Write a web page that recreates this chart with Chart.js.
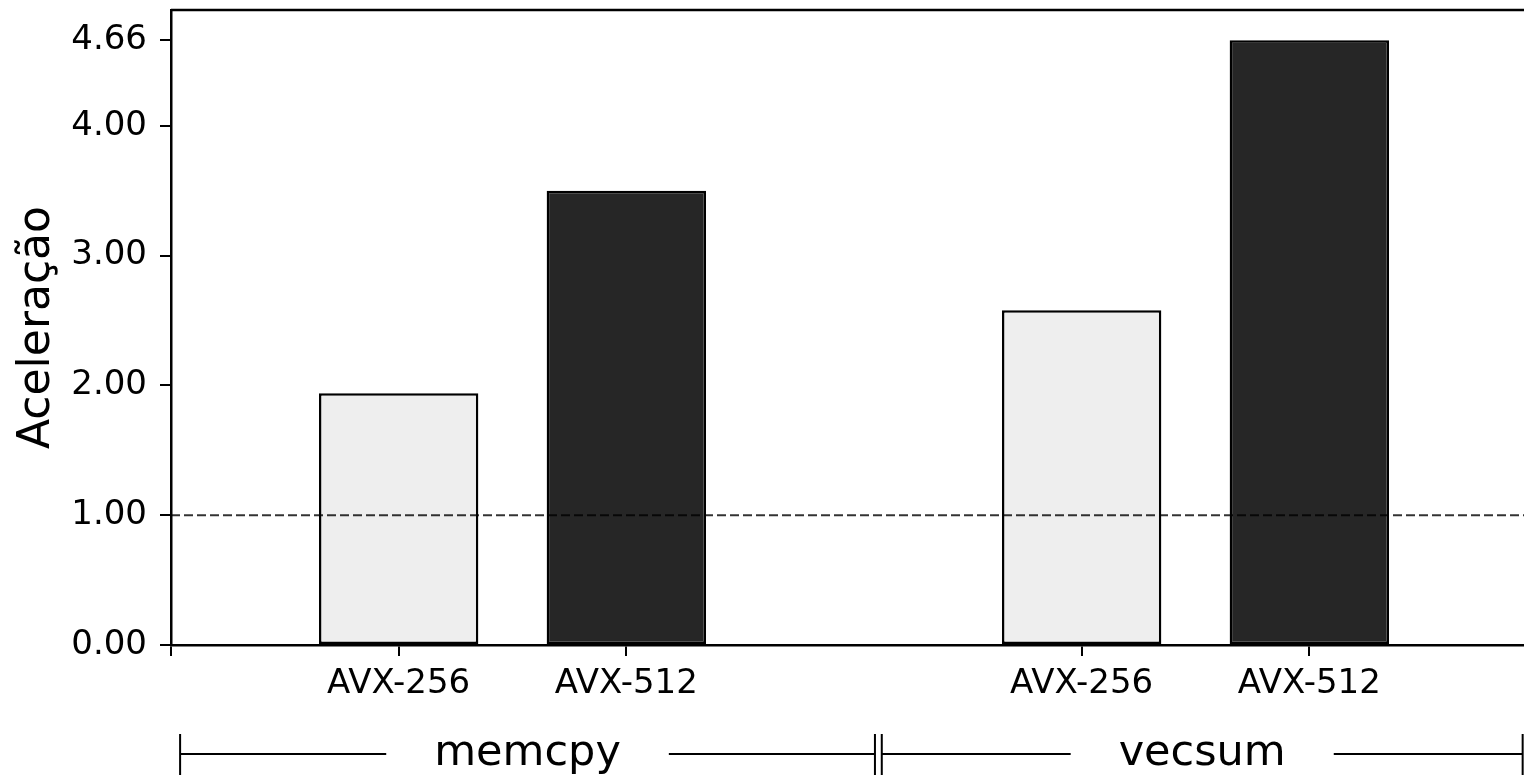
<!DOCTYPE html>
<html>
<head>
<meta charset="utf-8">
<title>Aceleração AVX</title>
<script src="https://cdn.jsdelivr.net/npm/chart.js@4.4.1/dist/chart.umd.min.js"></script>
<style>
  html, body { margin: 0; padding: 0; background: #ffffff; overflow: hidden; }
  /* the plot runs a little past the right edge of the window */
  #wrap { position: relative; width: 1560px; height: 775px; }
</style>
</head>
<body>
<div id="wrap"><canvas id="chart"></canvas></div>
<script>
// Benchmarks and the two vector widths measured for each
const groups = ['memcpy', 'vecsum'];
const variants = ['AVX-256', 'AVX-512'];

// Speed-up over the scalar baseline
const avx256 = [1.94, 2.58];
const avx512 = [3.50, 4.66];

// Y tick values and the reference speed-up line
const yTicks = [0, 1, 2, 3, 4, 4.66];
const baseline = 1.0;
const yTitle = 'Aceleração';

// ---- layout helpers (slot 0 is the left edge, each group takes three slots) ----
const SLOTS_PER_GROUP = 3;
const slotOf = (g, v) => g * SLOTS_PER_GROUP + 1 + v;
const xMax = groups.length * SLOTS_PER_GROUP;
const yMax = Math.max(...avx256, ...avx512) * 1.05;

const tickLabelAt = {};
groups.forEach((g, gi) => variants.forEach((v, vi) => { tickLabelAt[slotOf(gi, vi)] = v; }));
const xTickValues = [0];
groups.forEach((g, gi) => variants.forEach((v, vi) => xTickValues.push(slotOf(gi, vi))));
xTickValues.push(xMax);

const FONT = 'DejaVu Sans';
Chart.defaults.font.family = FONT;
Chart.defaults.color = '#000000';

// Dashed line at the baseline speed-up, drawn above the bars
const baselinePlugin = {
  id: 'baselineLine',
  afterDatasetsDraw(chart) {
    const { ctx, chartArea, scales } = chart;
    const y = scales.y.getPixelForValue(baseline);
    ctx.save();
    ctx.strokeStyle = 'rgba(0,0,0,0.8)';
    ctx.lineWidth = 2;
    ctx.setLineDash([9, 4]);
    ctx.beginPath();
    ctx.moveTo(chartArea.left, y);
    ctx.lineTo(chartArea.right, y);
    ctx.stroke();
    ctx.restore();
  }
};

// Top frame line
const framePlugin = {
  id: 'frame',
  afterDraw(chart) {
    const { ctx, chartArea } = chart;
    ctx.save();
    ctx.strokeStyle = '#000000';
    ctx.lineWidth = 2.5;
    ctx.beginPath();
    ctx.moveTo(chartArea.left, chartArea.top);
    ctx.lineTo(chartArea.right, chartArea.top);
    ctx.stroke();
    ctx.restore();
  }
};

// Group brackets under the x tick labels: |---- name ----||---- name ----|
const BRACKET_SPANS = [[0.04, 3.092], [3.122, 5.937]];
const groupBracketPlugin = {
  id: 'groupBrackets',
  afterDraw(chart) {
    const { ctx, chartArea, scales } = chart;
    const x = scales.x;
    const yLine = chartArea.bottom + 109;
    ctx.save();
    ctx.strokeStyle = '#000000';
    ctx.fillStyle = '#000000';
    ctx.lineWidth = 2;
    ctx.font = '43px "' + FONT + '"';
    ctx.textAlign = 'center';
    ctx.textBaseline = 'alphabetic';
    groups.forEach((name, i) => {
      const x0 = x.getPixelForValue(BRACKET_SPANS[i][0]);
      const x1 = x.getPixelForValue(BRACKET_SPANS[i][1]);
      const mid = (x0 + x1) / 2;
      const half = ctx.measureText(name).width / 2 + 48;
      ctx.beginPath();
      ctx.moveTo(x0, yLine); ctx.lineTo(mid - half, yLine);
      ctx.moveTo(mid + half, yLine); ctx.lineTo(x1, yLine);
      ctx.moveTo(x0, yLine - 20); ctx.lineTo(x0, yLine + 22);
      ctx.moveTo(x1, yLine - 20); ctx.lineTo(x1, yLine + 22);
      ctx.stroke();
      ctx.fillText(name, mid, yLine + 11);
    });
    ctx.restore();
  }
};

const points = (vals, vi) => vals.map((v, gi) => ({ x: slotOf(gi, vi), y: v }));

new Chart(document.getElementById('chart'), {
  type: 'bar',
  data: {
    datasets: [
      {
        label: variants[0],
        data: points(avx256, 0),
        backgroundColor: '#eeeeee',
        borderColor: '#000000',
        borderWidth: 2.5,
        borderSkipped: false,
        grouped: false,
        categoryPercentage: 1,
        barPercentage: 0.7
      },
      {
        label: variants[1],
        data: points(avx512, 1),
        backgroundColor: '#262626',
        borderColor: '#000000',
        borderWidth: 2.5,
        borderSkipped: false,
        grouped: false,
        categoryPercentage: 1,
        barPercentage: 0.7
      }
    ]
  },
  options: {
    responsive: true,
    maintainAspectRatio: false,
    animation: false,
    layout: { padding: { left: 0, top: 10, right: 23, bottom: 0 } },
    plugins: { legend: { display: false }, tooltip: { enabled: false } },
    scales: {
      x: {
        type: 'linear',
        offset: false,
        min: 0,
        max: xMax,
        afterBuildTicks(scale) { scale.ticks = xTickValues.map(v => ({ value: v })); },
        afterFit(scale) {
          scale.height = 130;
          scale.paddingLeft = 0; scale.paddingRight = 0;
        },
        ticks: {
          autoSkip: false,
          maxRotation: 0,
          padding: 8,
          color: '#000000',
          font: { size: 34 },
          callback: (v) => tickLabelAt[v] || ''
        },
        grid: { offset: false, drawOnChartArea: false, drawTicks: true, tickLength: 11, color: '#000000', lineWidth: 2 },
        border: { display: true, color: '#000000', width: 2.5 }
      },
      y: {
        min: 0,
        max: yMax,
        afterBuildTicks(scale) { scale.ticks = yTicks.map(v => ({ value: v })); },
        afterFit(scale) {
          scale.width = 171;
          scale.paddingTop = 0; scale.paddingBottom = 0;
        },
        ticks: {
          padding: 13,
          color: '#000000',
          font: { size: 34 },
          callback: (v) => Number(v).toFixed(2)
        },
        title: {
          display: true,
          text: yTitle,
          color: '#000000',
          font: { size: 44 },
          padding: { top: 11, bottom: 0 }
        },
        grid: { drawOnChartArea: false, drawTicks: true, tickLength: 11, color: '#000000', lineWidth: 2 },
        border: { display: true, color: '#000000', width: 2.5 }
      }
    }
  },
  plugins: [baselinePlugin, framePlugin, groupBracketPlugin]
});
</script>
</body>
</html>
